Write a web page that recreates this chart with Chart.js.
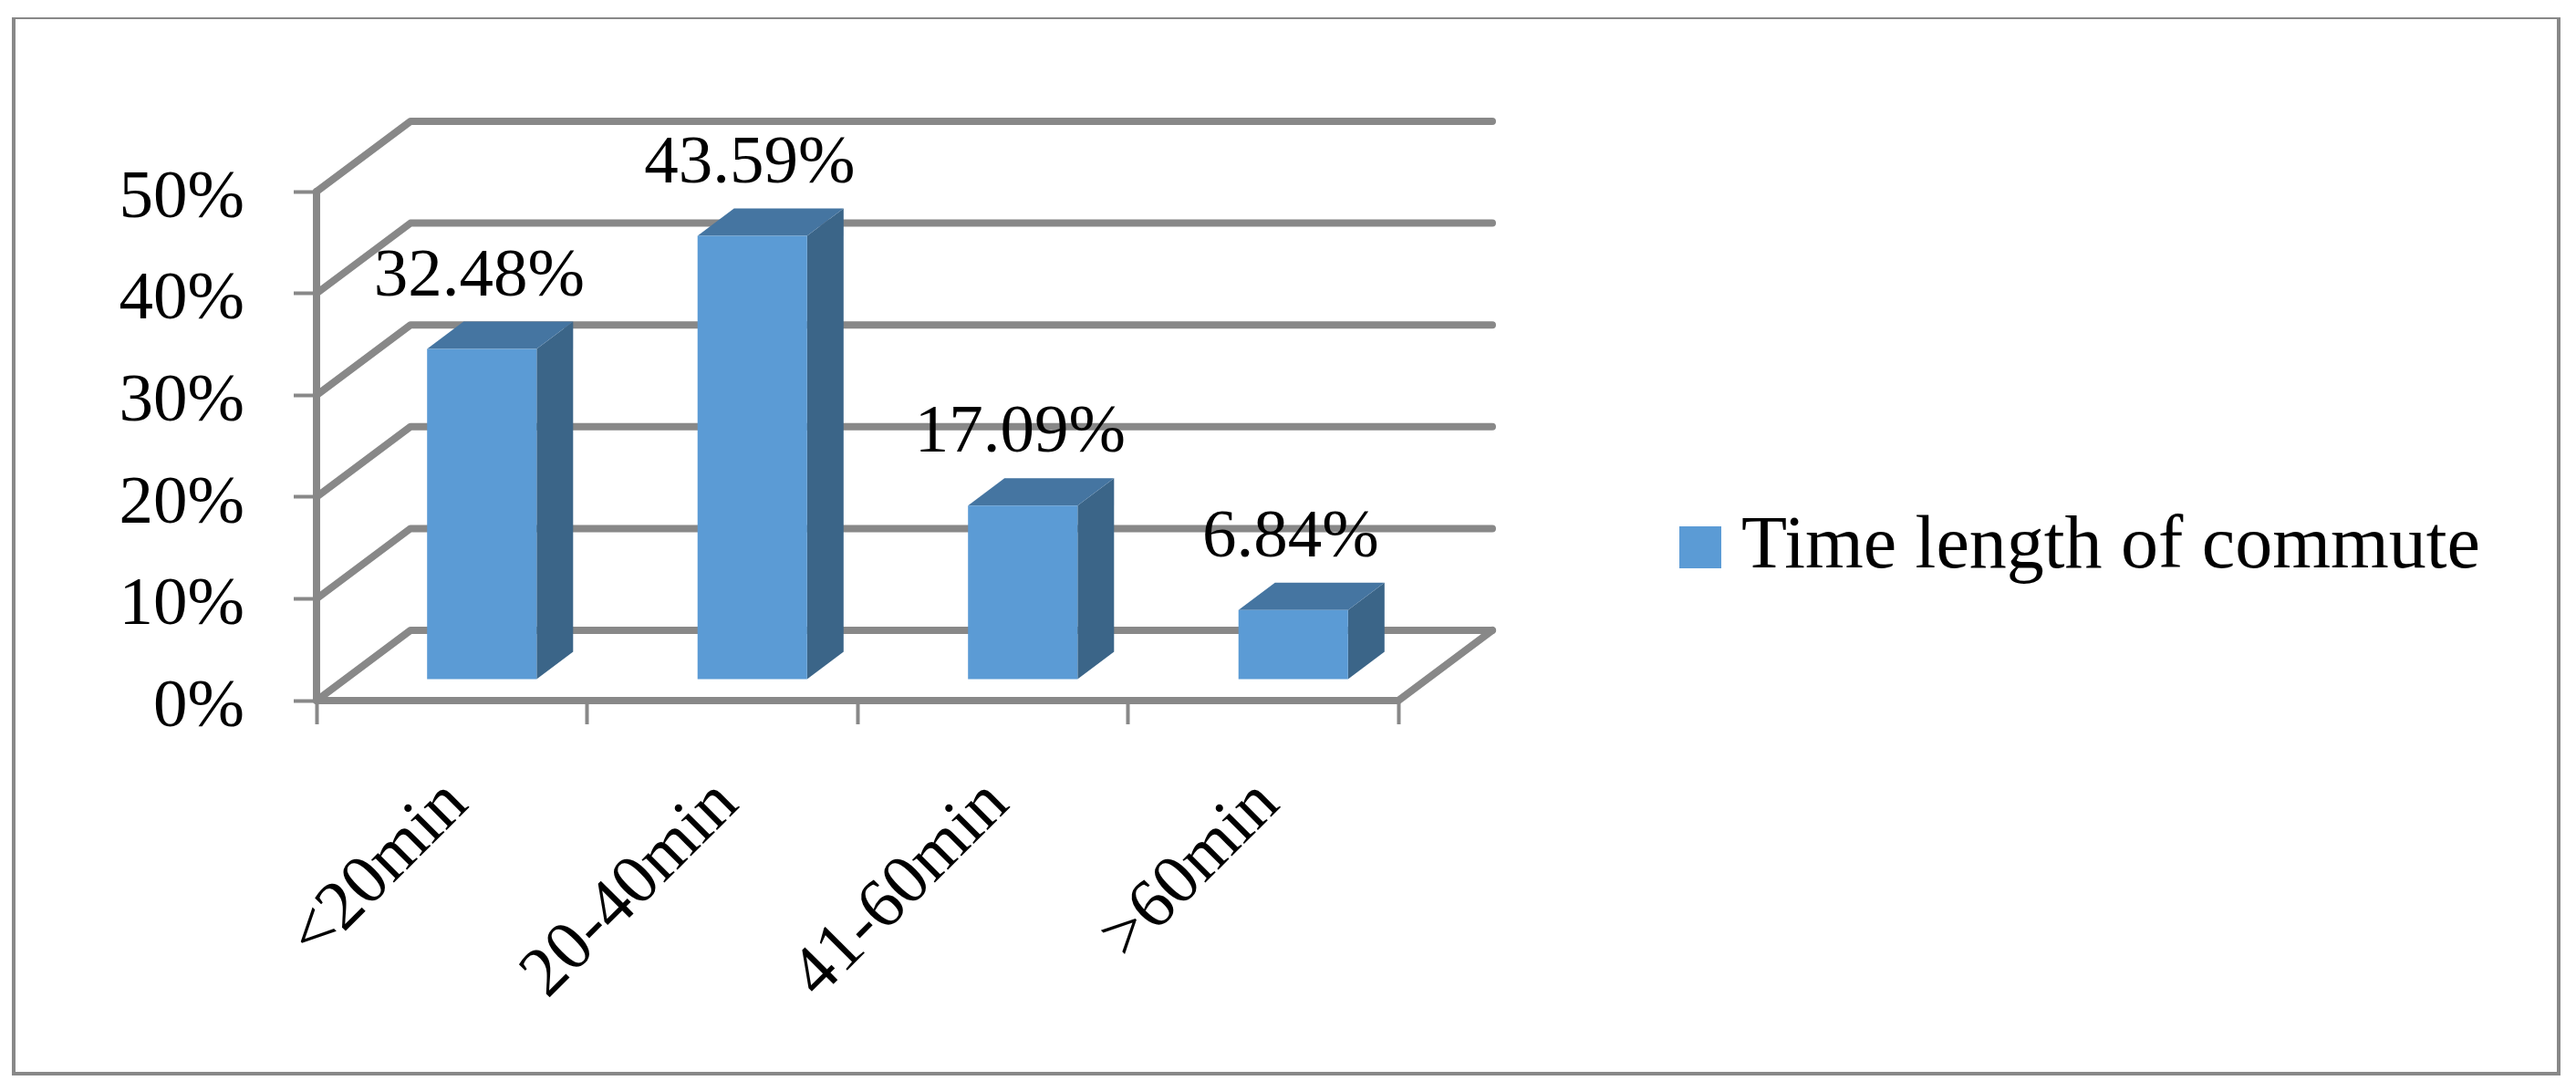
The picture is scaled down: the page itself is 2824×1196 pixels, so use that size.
<!DOCTYPE html>
<html>
<head>
<meta charset="utf-8">
<style>
  html, body { margin: 0; padding: 0; background: #fff; }
  #wrap { width: 2824px; height: 1196px; }
</style>
<script src="https://cdn.jsdelivr.net/npm/chart.js@4"></script>
</head>
<body>
<div id="wrap"><canvas id="commuteChart" width="2824" height="1196"></canvas></div>
<script>
const categories = ['<20min', '20-40min', '41-60min', '>60min'];
const commuteValues = [32.48, 43.59, 17.09, 6.84];
const valueLabels = ['32.48%', '43.59%', '17.09%', '6.84%'];
const seriesName = 'Time length of commute';

const serif = '"Liberation Serif", serif';
const gridColor = '#888888';

// depth of the fake 3D box, and how far in the bars stand
const wallDx = 103, wallDy = -77;
const barDx = 33, barDy = -23;
const capDx = 40, capDy = -30;

const box3d = {
    id: 'box3d',
    beforeDraw(chart) {
        // outer frame, thinner along the top like the source
        const ctx = chart.ctx;
        ctx.save();
        ctx.fillStyle = gridColor;
        ctx.fillRect(13, 19, 4, 1160);
        ctx.fillRect(13, 19, 2794, 2);
        ctx.fillRect(2803, 19, 4, 1160);
        ctx.fillRect(13, 1175, 2794, 4);
        ctx.restore();
    },
    beforeDatasetsDraw(chart) {
        const ctx = chart.ctx;
        const { left, right } = chart.chartArea;
        const y = chart.scales.y;
        const y0 = y.getPixelForValue(0);

        ctx.save();
        ctx.strokeStyle = gridColor;
        ctx.lineWidth = 8;
        ctx.lineJoin = 'round';
        ctx.lineCap = 'round';
        y.ticks.forEach(t => {
            const py = y.getPixelForValue(t.value);
            ctx.beginPath();
            ctx.moveTo(left, py);
            ctx.lineTo(left + wallDx, py + wallDy);
            ctx.lineTo(right + wallDx, py + wallDy);
            ctx.stroke();
        });
        // floor edge on the right and the two axis lines
        ctx.beginPath();
        ctx.moveTo(left, y.getPixelForValue(y.max));
        ctx.lineTo(left, y0);
        ctx.lineTo(right, y0);
        ctx.lineTo(right + wallDx, y0 + wallDy);
        ctx.stroke();
        ctx.restore();

        // top and side faces of the bars
        const meta = chart.getDatasetMeta(0);
        ctx.save();
        ctx.translate(barDx, barDy);
        meta.data.forEach(bar => {
            const l = bar.x - bar.width / 2, r = bar.x + bar.width / 2;
            ctx.fillStyle = '#3B6588';
            ctx.beginPath();
            ctx.moveTo(r, bar.y);
            ctx.lineTo(r + capDx, bar.y + capDy);
            ctx.lineTo(r + capDx, bar.base + capDy);
            ctx.lineTo(r, bar.base);
            ctx.closePath();
            ctx.fill();
            ctx.fillStyle = '#4575A1';
            ctx.beginPath();
            ctx.moveTo(l, bar.y);
            ctx.lineTo(l + capDx, bar.y + capDy);
            ctx.lineTo(r + capDx, bar.y + capDy);
            ctx.lineTo(r, bar.y);
            ctx.closePath();
            ctx.fill();
        });
        ctx.restore();

        // the front faces come from the library, shifted into the box
        ctx.save();
        ctx.translate(barDx, barDy);
    },
    afterDatasetsDraw(chart) {
        const ctx = chart.ctx;
        ctx.restore();

        // value labels
        const meta = chart.getDatasetMeta(0);
        ctx.save();
        ctx.fillStyle = '#000';
        ctx.font = '75px ' + serif;
        ctx.textAlign = 'center';
        ctx.textBaseline = 'alphabetic';
        meta.data.forEach((bar, i) => {
            ctx.fillText(valueLabels[i], bar.x + barDx - 3, bar.y + barDy - 59);
        });
        ctx.restore();
    },
    afterLayout(chart) {
        // legend sits in the free space right of the box
        const legend = chart.legend;
        legend.left = 1841;
        legend.right = 2719;
        legend.top = 550;
        legend.bottom = 650;
    }
};

new Chart(document.getElementById('commuteChart'), {
    type: 'bar',
    data: {
        labels: categories,
        datasets: [{
            label: seriesName,
            data: commuteValues,
            backgroundColor: '#5B9BD5',
            barPercentage: 0.405,
            categoryPercentage: 1
        }]
    },
    options: {
        responsive: false,
        animation: false,
        layout: { padding: { top: 210, right: 1291 } },
        scales: {
            x: {
                afterFit(scale) { scale.height = 428; },
                grid: { drawOnChartArea: false, drawTicks: true, tickLength: 26, tickWidth: 4, tickColor: gridColor },
                border: { display: false },
                ticks: {
                    color: '#000',
                    font: { family: serif, size: 77 },
                    minRotation: 45,
                    maxRotation: 45,
                    padding: 43,
                    labelOffset: 6
                }
            },
            y: {
                min: 0,
                max: 50,
                afterFit(scale) { scale.width = 347; },
                grid: { drawOnChartArea: false, drawTicks: true, tickLength: 25, tickWidth: 4, tickColor: gridColor },
                border: { display: false },
                ticks: {
                    stepSize: 10,
                    color: '#000',
                    padding: 54,
                    labelOffset: 8,
                    font: { family: serif, size: 75 },
                    callback: value => value + '%'
                }
            }
        },
        plugins: {
            tooltip: { enabled: false },
            legend: {
                position: 'chartArea',
                labels: {
                    color: '#000',
                    boxWidth: 46,
                    boxHeight: 46,
                    padding: 0,
                    textAlign: 'right',
                    font: { family: serif, size: 82 }
                }
            }
        }
    },
    plugins: [box3d]
});
</script>
</body>
</html>
